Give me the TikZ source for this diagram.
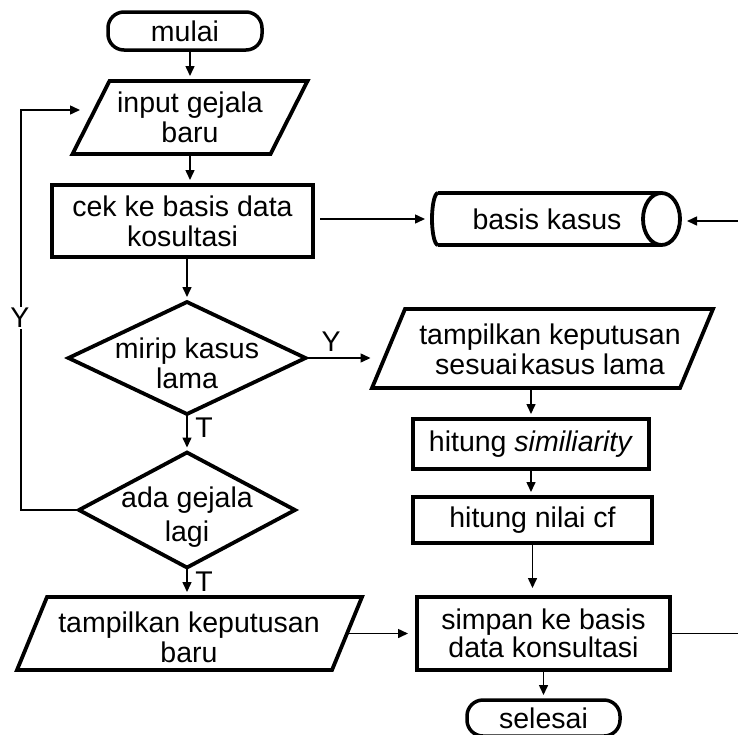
\documentclass[tikz,border=0pt]{standalone}
\usepackage{fontspec}
\setmainfont{Liberation Sans}
\usetikzlibrary{arrows.meta,shapes.geometric}

% parallelogram drawn around a named rectangle node: #1 node, #2 horizontal slant
\newcommand\slantoutline[2]{%
  \draw[iobox] ([xshift=#2/2]#1.north west) -- ([xshift=#2/2]#1.north east)
    -- ([xshift=-#2/2]#1.south east) -- ([xshift=-#2/2]#1.south west) -- cycle;}

\begin{document}
\begin{tikzpicture}[x=1pt,y=-1pt,
  font=\fontsize{28.5}{30}\selectfont,
  every node/.style={inner sep=0pt, outer sep=0pt},
  terminal/.style={draw, line width=3.5pt, rounded corners=16pt,
    minimum width=#1, minimum height=38pt},
  process/.style 2 args={draw, line width=4.5pt, minimum width=#1,
    minimum height=#2, align=center},
  iotext/.style 2 args={minimum width=#1, minimum height=#2, align=center},
  iobox/.style={line width=3.8pt, line join=miter},
  decision/.style 2 args={draw, diamond, line width=3.8pt, minimum width=#1,
    minimum height=#2},
  flow/.style={line width=1.5pt, shorten >=5pt,
    -{Triangle[length=10pt,width=9pt]}},
  link/.style={line width=1.5pt},
  tag/.style={fill=white, inner sep=1pt},
]
\useasboundingbox (0,0) rectangle (738,734);

% ---- left column ----
\node[terminal=154pt] (start) at (185,31) {mulai};

\node[iotext={198}{73}] (input) at (190,117.5) {input gejala\\baru};
\slantoutline{input}{37}

\node[process={261}{72}] (check) at (182.5,221) {cek ke basis data\\kosultasi};

\node[decision={237}{112},
  label={[align=center,yshift=-5pt]center:mirip kasus\\lama}] (similar) at (187,358) {};

\node[decision={216}{115},
  label={[align=center,yshift=-7pt]center:ada gejala\\[4pt]lagi}] (more) at (187,510) {};

\node[iotext={315}{73}] (newres) at (189.5,633.5) {};
\node[align=center] at (189,637) {tampilkan keputusan\\baru};
\slantoutline{newres}{30}

% ---- case base (horizontal cylinder) ----
\node[minimum width=248, minimum height=52,
  label={[xshift=-9pt]center:basis kasus}] (cases) at (556,219) {};
\draw[line width=3.8pt]
  ([xshift=6]cases.north west) -- ([xshift=-18.5]cases.north east)
  ([xshift=6]cases.south west) -- ([xshift=-18.5]cases.south east)
  ([xshift=6]cases.south west)
    arc[start angle=270, end angle=90, x radius=6pt, y radius=26pt];
\draw[line width=3.8pt] ([xshift=-18.5]cases.east) ellipse[x radius=18.5pt, y radius=26pt];

% ---- right column ----
\node[iotext={308}{79}] (oldres) at (542.5,348.5) {};
\node[align=center] at (550,349) {tampilkan keputusan\\sesuai\kern3pt kasus lama};
\slantoutline{oldres}{33}

\node[process={236}{50}, line width=3.8pt] (simcalc) at (531,444) {hitung \textit{similiarity}};
\node[process={239}{46}] (cfcalc) at (532.5,520) {hitung nilai cf};
\node[process={253}{73}, font=\fontsize{28.5}{25}\selectfont] (save) at (543.5,633.5)
  {simpan ke basis\\data konsultasi};
\node[terminal=153pt, minimum height=36pt] (finish) at (543.5,718) {selesai};

% ---- connectors ----
\draw[flow] (input.north |- start.south) -- (input.north);
\draw[flow] (input.south) -- (input.south |- check.north);
\draw[flow] (similar.north |- check.south) -- (similar.north);
\draw[flow] (similar.south) -- (more.north);
\draw[flow] (more.south) -- (more.south |- newres.north);

\draw[flow, shorten <=7pt, shorten >=7pt] (check.east |- cases.west) -- (cases.west);
\coordinate (inedge) at (738,221);
\draw[flow, shorten >=7pt] (inedge) -- (inedge -| cases.east);

\draw[flow, shorten >=18pt] (similar.east) -- (similar.east -| oldres.west);
\node at (331,342) {Y};

\draw[flow] (simcalc.north |- oldres.south) -- (simcalc.north);
\draw[flow] (simcalc.south) -- (simcalc.south |- cfcalc.north);
\draw[flow, shorten >=9pt] (cfcalc.south) -- (cfcalc.south |- save.north);
\draw[flow] (save.south) -- (finish.north);

\draw[flow, shorten >=9pt] (newres.east) -- (save.west);
\coordinate (outedge) at (738,633.5);
\draw[link] (save.east) -- (outedge);

% loop back for further symptoms
\coordinate (loopcorner) at (21,110);
\coordinate (loopend) at (80,110);
\draw[flow, shorten >=0pt] (more.west) -| (loopcorner) -- (loopend);
\node[tag] at (20,318) {Y};

\node at (204,428) {T};
\node at (204,582) {T};
\end{tikzpicture}
\end{document}
